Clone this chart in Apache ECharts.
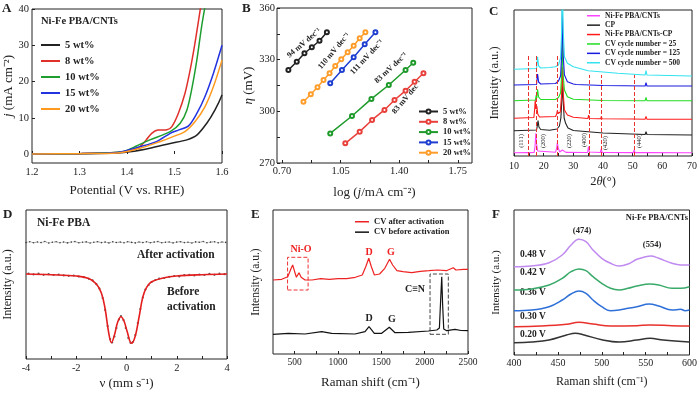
<!DOCTYPE html>
<html><head><meta charset="utf-8">
<script src="https://cdn.jsdelivr.net/npm/echarts@6/dist/echarts.min.js"></script>
<style>html,body{margin:0;padding:0;background:#fff}#c{width:700px;height:396px}</style>
</head><body><div id="c"></div>
<script>
// ================= DATA =================
// Panel A: LSV, potential (V vs RHE) vs j (mA cm-2)
const aNames = ['5 wt%', '8 wt%', '10 wt%', '15 wt%', '20 wt%'];
const aXTicks = [1.2, 1.3, 1.4, 1.5, 1.6];
const aYTicks = [0, 10, 20, 30, 40];
const a5  = [[1.2,0],[1.3,0.1],[1.38,0.3],[1.406,0.6],[1.448,1.6],[1.491,2.9],[1.526,3.9],[1.547,5.2],[1.568,8.5],[1.585,12.1],[1.6,16.3]];
const a8  = [[1.2,0],[1.3,0.1],[1.38,0.4],[1.41,1.0],[1.427,2.0],[1.44,3.8],[1.452,5.7],[1.465,6.6],[1.484,6.7],[1.494,7.5],[1.508,11.2],[1.522,16.7],[1.533,23.2],[1.543,30.5],[1.554,39.7],[1.557,42]];
const a10 = [[1.2,0],[1.3,0.1],[1.38,0.5],[1.40,1.0],[1.42,2.2],[1.448,3.9],[1.491,6.2],[1.512,8.5],[1.526,12.1],[1.536,17.7],[1.547,25.9],[1.557,35.1],[1.564,40.5]];
const a15 = [[1.2,0],[1.3,0.1],[1.38,0.4],[1.427,2.0],[1.462,3.4],[1.491,5.7],[1.508,6.6],[1.529,7.7],[1.547,11.2],[1.564,15.8],[1.582,22.3],[1.6,30]];
const a20 = [[1.2,0],[1.3,0.1],[1.38,0.3],[1.427,1.6],[1.469,3.4],[1.497,4.8],[1.522,6.2],[1.543,8.9],[1.564,13.0],[1.582,18.6],[1.6,25.9]];

// Panel B: Tafel, log(j) vs overpotential (mV)
const bXLabels = [0.70, 1.05, 1.40, 1.75];
const bXTicks = [0.70, 0.875, 1.05, 1.225, 1.40, 1.575, 1.75];
const bYLabels = [270, 300, 330, 360];
const bYTicks = [270, 285, 300, 315, 330, 345, 360];
const b5  = [[0.738,324.0],[0.788,328.8],[0.834,333.7],[0.878,337.2],[0.924,341.0],[0.968,345.9]];
const b8  = [[1.078,281.4],[1.164,288.2],[1.238,295.0],[1.312,300.8],[1.372,306.6],[1.438,312.0],[1.492,317.2],[1.545,322.1]];
const b10 = [[0.988,287.2],[1.118,297.3],[1.234,307.2],[1.338,315.3],[1.438,324.0],[1.484,328.2]];
const b15 = [[0.988,316.3],[1.058,324.0],[1.128,331.4],[1.194,338.9],[1.258,345.9]];
const b20 = [[0.828,305.6],[0.872,309.9],[0.912,314.0],[0.948,318.2],[0.984,322.1],[1.018,326.3],[1.054,330.2],[1.092,334.3],[1.128,338.1],[1.164,342.4],[1.198,345.9]];
const bSlopes = ['94 mV dec⁻¹', '110 mV dec⁻¹', '111 mV dec⁻¹', '83 mV dec⁻¹', '83 mV dec⁻¹'];

// Panel C: XRD (2theta, offset intensity a.u.)
const cNames = ['Ni-Fe PBA/CNTs', 'CP', 'Ni-Fe PBA/CNTs-CP', 'CV cycle number = 25', 'CV cycle number = 125', 'CV cycle number = 500'];
const cXLabels = [10, 20, 30, 40, 50, 60, 70];
const cXTicks = [10, 15, 20, 25, 30, 35, 40, 45, 50, 55, 60, 65, 70];
const cPBA = [[10,3.3],[14.4,3.4],[14.8,4.5],[15.2,3.4],[16.8,3.6],[17.1,10],[17.35,22.7],[17.6,12],[18.0,5],[18.6,3.8],[24.0,3.8],[24.4,8],[24.6,13.3],[24.9,8],[25.4,4],[26.0,4.5],[26.3,6],[26.6,4.5],[27.5,3.6],[34.8,3.5],[35.1,9.3],[35.4,4],[39.1,3.5],[39.4,7],[39.7,3.6],[50.2,3.4],[50.5,6],[50.8,3.4],[54,3.4],[54.4,5],[54.8,3.4],[70,3.3]];
const cCP = [[10,25.3],[17.6,26],[17.9,31],[18.1,35.3],[18.4,29],[19,26.5],[22,25.8],[24.5,27],[25.3,30],[25.8,38],[26.1,55],[26.35,75],[26.6,55],[26.9,38],[27.4,32.7],[28.2,28],[30,25.5],[40,23],[54.2,21.5],[54.5,24.3],[54.8,21.5],[70,21]];
const cCPact = [[10,37.7],[16.7,38.5],[17.0,48],[17.15,56],[17.4,47],[17.7,50],[18.0,42],[18.6,39],[24.0,39.5],[24.4,42],[24.6,45.3],[24.9,42.5],[25.6,44],[26.0,60],[26.3,89],[26.6,62],[27.0,46],[28.0,41],[30,38.7],[34.9,37.5],[35.15,41],[35.4,37.5],[39.2,37.2],[39.45,39.5],[39.7,37.2],[50,37],[54.2,36.8],[54.5,39.7],[54.8,36.8],[70,36.7]];
const cCV25 = [[10,55.3],[17.2,56],[17.5,61],[17.7,58],[17.95,66.7],[18.3,59],[19,56.5],[24,56.5],[25,58.5],[25.7,63],[26.0,78],[26.3,116],[26.6,80],[27,66],[28,59.3],[30,56.7],[40,55.5],[54.2,55.3],[54.5,58.7],[54.8,55.3],[70,55.3]];
const cCV125 = [[10,71],[17.6,71.5],[17.95,82],[18.3,74],[19,72],[24,72.5],[25,75],[25.7,80],[26.0,98],[26.3,146],[26.6,100],[27,81],[28,74.3],[30,72],[30.5,73.5],[31,71.5],[40,70.5],[54.2,70],[54.5,73.3],[54.8,70],[70,70]];
const cCV500 = [[10,86.7],[17.6,87.5],[17.95,99.3],[18.3,90],[19,88],[22,88.5],[24,89.3],[25,91],[25.7,98],[26.0,120],[26.3,175],[26.6,125],[27,99.3],[28,92.7],[30,89.3],[35,85.3],[45,82.7],[54.2,81],[54.5,85.5],[54.8,81],[70,80]];
const cPlanes = ['(111)', '(200)', '(220)', '(400)', '(420)', '(440)'];
const cPlaneAngles = [14.8, 17.4, 24.6, 35.2, 39.5, 50.5];
const cGuideTop = [101, 101, 101, 81, 81, 81];

// Panel D: Mossbauer, velocity (mm s-1)
const dXLabels = [-4, -2, 0, 2, 4];
const dXTicks = [-4, -3, -2, -1, 0, 1, 2, 3, 4];
const dFit = [[-4,85],[-3,84.3],[-2,83],[-1.5,80.5],[-1.2,75],[-1.0,66],[-0.85,50],[-0.72,28],[-0.6,16.3],[-0.48,24],[-0.35,37],[-0.22,42.3],[-0.1,38],[0.02,28],[0.2,15.7],[0.35,23],[0.5,42],[0.65,62],[0.8,71.7],[1.0,77.3],[1.5,81.3],[2,83],[3,84.3],[4,85]];
const dBefore = [[-3.9,85.5],[-3.7,84.6],[-3.5,85.3],[-3.3,84.2],[-3.1,84.8],[-2.9,84],[-2.7,84.5],[-2.5,83.6],[-2.3,83.2],[-2.1,83.5],[-1.9,82.5],[-1.7,81.8],[-1.5,80.2],[-1.35,78.6],[-1.2,74.8],[-1.08,70.5],[-0.95,61],[-0.85,49],[-0.75,33],[-0.65,20],[-0.57,16.5],[-0.48,22.5],[-0.4,31],[-0.3,39.5],[-0.22,43],[-0.12,39],[-0.03,31],[0.07,21],[0.16,16.2],[0.25,17],[0.35,24],[0.45,36],[0.55,50],[0.65,61.5],[0.75,69.5],[0.88,74],[1.0,77],[1.15,79],[1.3,80.5],[1.5,81],[1.7,82.2],[1.9,83],[2.1,82.6],[2.3,83.8],[2.5,84.2],[2.7,83.5],[2.9,84.5],[3.1,84],[3.3,85.2],[3.5,84.2],[3.7,85.5],[3.9,84.8]];
const dAfter = [[-4,116.5],[-3.85,117.3],[-3.7,116.2],[-3.55,117],[-3.4,116.4],[-3.25,117.5],[-3.1,116],[-2.95,116.8],[-2.8,117.2],[-2.65,116.3],[-2.5,117],[-2.35,116.1],[-2.2,116.9],[-2.05,117.4],[-1.9,116.2],[-1.75,116.8],[-1.6,117.1],[-1.45,116],[-1.3,116.7],[-1.15,117.3],[-1,116.4],[-0.85,116.9],[-0.7,116.1],[-0.55,117.2],[-0.4,116.5],[-0.25,116.9],[-0.1,116.2],[0.05,117.3],[0.2,116.6],[0.35,116.1],[0.5,117],[0.65,116.4],[0.8,117.2],[0.95,116.3],[1.1,116.9],[1.25,117.4],[1.4,116.2],[1.55,116.8],[1.7,117],[1.85,116.1],[2,116.9],[2.15,117.3],[2.3,116.4],[2.45,116.8],[2.6,116],[2.75,117.1],[2.9,116.7],[3.05,117.5],[3.2,116.3],[3.35,116.9],[3.5,117.2],[3.65,116.2],[3.8,117],[3.95,116.6]];

// Panel E: Raman (cm-1)
const eNames = ['CV after activation', 'CV before activation'];
const eXLabels = [500, 1000, 1500, 2000, 2500];
const eXTicks = [500, 750, 1000, 1250, 1500, 1750, 2000, 2250, 2500];
const eAfter = [[250,74],[350,74.7],[420,77.3],[460,85.7],[477,89],[500,82.3],[520,76.7],[550,81.3],[575,76.7],[620,74],[700,74],[800,75.3],[900,74.7],[1000,75.3],[1100,75.3],[1200,76.7],[1280,79],[1320,87.3],[1355,95.7],[1385,87.3],[1420,79],[1480,80],[1540,85.7],[1595,94.7],[1630,89],[1680,83.3],[1750,82.3],[1850,81.3],[1950,82.7],[2050,83.3],[2150,84],[2250,83.3],[2330,86.3],[2360,84],[2450,84.7],[2500,84.7]];
const eBefore = [[250,19.7],[427,20.7],[619,20],[812,22.3],[927,20.7],[1196,20],[1312,22.3],[1358,27.3],[1419,20.7],[1504,20.7],[1592,26.7],[1658,21.3],[1812,21.7],[2043,23],[2140,24],[2170,26],[2185,55],[2197,77.3],[2207,50],[2220,25],[2254,23.3],[2350,24.7],[2420,23.5],[2500,23.3]];
const eBoxNiO = [[418, 64], [655, 96.7]];
const eBoxCN = [[2062, 19.7], [2273, 80]];

// Panel F: in-situ Raman (cm-1)
const fNames = ['0.48 V', '0.42 V', '0.36 V', '0.30 V', '0.20 V'];
const fXLabels = [400, 450, 500, 550, 600];
const fXTicks = [400, 425, 450, 475, 500, 525, 550, 575, 600];
const f048 = [[400,88.3],[420,89],[440,92.3],[455,100],[465,110],[474,115.7],[482,113.3],[490,105],[500,96.7],[510,91.7],[520,89],[530,91],[540,95.7],[550,98.3],[556,99],[565,96.7],[580,91.7],[590,90],[600,90]];
const f042 = [[400,65],[420,66],[440,70],[455,76.7],[465,83.3],[474,86],[482,84.3],[490,78.3],[500,71.7],[510,66.7],[520,65],[530,66.7],[540,69],[555,71],[565,70],[580,66.7],[590,66.7],[600,68.3]];
const f036 = [[400,44.3],[420,45],[440,48.3],[455,55],[465,61],[474,64],[482,61.7],[490,55],[500,48.3],[510,44.3],[520,45],[530,46.7],[540,48.3],[554,51],[565,49],[580,45],[590,45.7],[595,44.3],[600,45]];
const f030 = [[400,28.3],[430,29],[460,30.7],[474,32.7],[490,31],[510,29],[540,29.3],[555,30],[580,29.3],[600,29]];
const f020 = [[400,12.3],[420,13],[440,15],[460,20],[470,21.7],[480,20],[500,15.3],[520,13],[540,15],[555,16.7],[570,15],[600,13]];

// ================= STYLE =================
const FONT = "'Liberation Serif','Times New Roman',serif";
const INK = '#222';
const aColors = ['#222222', '#e0302a', '#1e9e2e', '#2233e0', '#ff9a1e'];
const bColors = ['#222222', '#e8403a', '#1e9a2a', '#1f3fd0', '#ff9d2a'];
const cColors = ['#ff44ff', '#222222', '#ff1a1a', '#22dd22', '#1a1ae0', '#33e3ee'];
const eColors = ['#ee2222', '#111111'];
const fColors = ['#c08af0', '#3aaa6a', '#2f70d8', '#e8302c', '#333333'];

const chart = echarts.init(document.getElementById('c'), null, {renderer: 'canvas'});

function axis(gi, min, max, o) {
  return {
    gridIndex: gi, type: 'value', min: min, max: max,
    axisLine: {show: false}, splitLine: {show: false},
    axisTick: {show: !!o.ticks, inside: true, length: 3, customValues: o.ticks, lineStyle: {color: INK}},
    axisLabel: {show: !!o.labels, customValues: o.labels, formatter: o.fmt || (v => String(v)), margin: o.margin || 4,
      fontFamily: FONT, fontSize: o.fs || 10.5, color: INK},
    name: o.name || '', nameLocation: 'middle', nameGap: o.gap || 10,
    nameTextStyle: {fontFamily: FONT, fontSize: o.nfs || 13, color: INK,
      rich: {i: {fontFamily: FONT, fontSize: o.nfs || 13, fontStyle: 'italic', color: INK}}}
  };
}
function grid(l, t, w, h) {
  return {left: l, top: t, width: w, height: h, show: true, borderColor: INK, borderWidth: 1, backgroundColor: 'transparent'};
}
function lineS(name, data, color, xi, extra) {
  return Object.assign({name: name, type: 'line', xAxisIndex: xi, yAxisIndex: xi, data: data, symbol: 'none',
    lineStyle: {width: 1.5, color: color}, itemStyle: {color: color}, animation: false}, extra || {});
}
function txt(x, y, s, o) {
  o = o || {};
  const font = (o.bold === false ? '' : 'bold ') + (o.italic ? 'italic ' : '') + (o.fs || 11) + 'px ' + FONT;
  return {type: 'text', x: x, y: y, rotation: o.rot || 0, silent: true,
    style: {text: s, font: font, fill: o.color || INK,
      align: o.align || 'left', textAlign: o.align || 'left',
      verticalAlign: 'middle', textVerticalAlign: 'middle'}};
}
const deg = Math.PI / 180;

const series = [];
// A
[a5, a8, a10, a15, a20].forEach((d, i) => series.push(lineS(aNames[i], d, aColors[i], 0, {smooth: 0.3})));
// B
[b5, b8, b10, b15, b20].forEach((d, i) => series.push(lineS(aNames[i] + ' ', d, bColors[i], 1,
  {symbol: 'emptyCircle', symbolSize: 4, showSymbol: true, itemStyle: {color: bColors[i], borderWidth: 1}})));
// C
[cPBA, cCP, cCPact, cCV25, cCV125, cCV500].forEach((d, i) => {
  const s = lineS(cNames[i], d, cColors[i], 2, {lineStyle: {width: 1.1, color: cColors[i]}});
  if (i === 0) {
    s.markLine = {silent: true, symbol: 'none', animation: false, label: {show: false},
      lineStyle: {color: '#e8342f', type: 'dashed', width: 1},
      data: cPlaneAngles.map((a, k) => [{coord: [a, 0]}, {coord: [a, cGuideTop[k]]}])};
  }
  series.push(s);
});
// D
series.push(lineS('after', dAfter, '#555', 3, {symbol: 'circle', symbolSize: 1.6, showSymbol: true,
  lineStyle: {width: 0.8, color: '#555', type: 'dotted'}, itemStyle: {color: '#444'}}));
series.push(lineS('fit', dFit, '#e41e1e', 3, {smooth: 0.4, lineStyle: {width: 1.6, color: '#e41e1e'}}));
series.push({name: 'before', type: 'scatter', xAxisIndex: 3, yAxisIndex: 3, data: dBefore, symbolSize: 2.2,
  itemStyle: {color: '#333'}, animation: false});
// E
series.push(lineS(eNames[0], eAfter, eColors[0], 4, {lineStyle: {width: 1.2, color: eColors[0]},
  markArea: {silent: true, animation: false, itemStyle: {color: 'rgba(0,0,0,0)', borderColor: '#ee3333', borderWidth: 1, borderType: 'dashed'},
    data: [[{coord: eBoxNiO[0]}, {coord: eBoxNiO[1]}]]}}));
series.push(lineS(eNames[1], eBefore, eColors[1], 4, {lineStyle: {width: 1.2, color: eColors[1]},
  markArea: {silent: true, animation: false, itemStyle: {color: 'rgba(0,0,0,0)', borderColor: '#444', borderWidth: 1, borderType: 'dashed'},
    data: [[{coord: eBoxCN[0]}, {coord: eBoxCN[1]}]]}}));
// F
[f048, f042, f036, f030, f020].forEach((d, i) => series.push(lineS(fNames[i], d, fColors[i], 5, {smooth: 0.4})));

const legText = (fs, lh) => ({fontFamily: FONT, fontWeight: 'bold', fontSize: fs, color: INK, lineHeight: lh});

const option = {
  animation: false,
  backgroundColor: '#fff',
  grid: [grid(32, 9, 190, 154), grid(277, 8, 195, 155), grid(514, 10, 178, 146),
         grid(26, 210, 201, 149), grid(273, 210, 195, 144), grid(514, 210, 178, 145)],
  xAxis: [
    axis(0, 1.2, 1.6, {ticks: aXTicks, labels: aXTicks, fmt: v => v.toFixed(1), name: 'Potential (V vs. RHE)', gap: 21, margin: 4}),
    axis(1, 0.67, 1.835, {ticks: bXTicks, labels: bXLabels, fmt: v => v.toFixed(2), name: 'log ({i|j}/mA cm⁻²)', gap: 23, margin: 3}),
    axis(2, 10, 70, {ticks: cXTicks, labels: cXLabels, name: '2{i|θ}(°)', gap: 19, margin: 5, fs: 10, nfs: 12.5}),
    axis(3, -4, 4, {ticks: dXTicks, labels: dXLabels, name: 'ν (mm s⁻¹)', gap: 18, margin: 4}),
    axis(4, 250, 2500, {ticks: eXTicks, labels: eXLabels, name: 'Raman shift (cm⁻¹)', gap: 22, margin: 3, fs: 9.5}),
    axis(5, 400, 600, {ticks: fXTicks, labels: fXLabels, name: 'Raman shift (cm⁻¹)', gap: 21, margin: 3, fs: 10, nfs: 12})
  ],
  yAxis: [
    axis(0, -2.48, 40, {ticks: aYTicks, labels: aYTicks, name: '{i|j} (mA cm⁻²)', gap: 15, margin: 3}),
    axis(1, 270, 360, {ticks: bYTicks, labels: bYLabels, name: '{i|η} (mV)', gap: 14, margin: 2}),
    axis(2, 0, 146, {name: 'Intensity (a.u.)', gap: 13, nfs: 12.5}),
    axis(3, 0, 149, {name: 'Intensity (a.u.)', gap: 12, nfs: 12}),
    axis(4, 0, 144, {name: 'Intensity (a.u.)', gap: 11, nfs: 11.5}),
    axis(5, 0, 145, {name: 'Intensity (a.u.)', gap: 12, nfs: 11})
  ],
  legend: [
    {left: 41, top: 39, padding: 0, orient: 'vertical', selectedMode: false, icon: 'rect', itemWidth: 19, itemHeight: 2, itemGap: 4,
      data: aNames, textStyle: legText(10.5, 12)},
    {left: 418, top: 107, padding: 0, orient: 'vertical', selectedMode: false, itemWidth: 19, itemHeight: 5, itemGap: 1.3,
      data: aNames.map(n => n + ' '), formatter: n => n.trim(), textStyle: legText(8.5, 9)},
    {left: 587, top: 11.5, padding: 0, orient: 'vertical', selectedMode: false, icon: 'rect', itemWidth: 13, itemHeight: 1.5, itemGap: 0.9,
      data: cNames, textStyle: legText(7.5, 8.5)},
    {left: 355, top: 217, padding: 0, orient: 'vertical', selectedMode: false, icon: 'rect', itemWidth: 14, itemHeight: 1.5, itemGap: 0.9,
      data: eNames, textStyle: legText(8.5, 9.5)}
  ],
  series: series,
  graphic: {elements: [
    // panel letters
    txt(2, 9, 'A', {fs: 13}), txt(242, 9, 'B', {fs: 13}), txt(489, 12, 'C', {fs: 13}),
    txt(3, 215, 'D', {fs: 13}), txt(251, 215, 'E', {fs: 13}), txt(492, 215, 'F', {fs: 13}),
    // A
    txt(41, 21, 'Ni-Fe PBA/CNTs', {fs: 10.5}),
    // B slopes
    txt(304, 43, bSlopes[0], {fs: 8, align: 'center', rot: 40 * deg}),
    txt(334, 51, bSlopes[1], {fs: 8, align: 'center', rot: 50 * deg}),
    txt(367, 57, bSlopes[2], {fs: 8, align: 'center', rot: 47 * deg}),
    txt(391, 68, bSlopes[3], {fs: 8, align: 'center', rot: 43 * deg}),
    txt(407, 97, bSlopes[4], {fs: 8, align: 'center', rot: 50 * deg}),
    // C planes
    txt(521, 141, cPlanes[0], {fs: 6.5, bold: false, align: 'center', rot: 90 * deg}),
    txt(543, 141, cPlanes[1], {fs: 6.5, bold: false, align: 'center', rot: 90 * deg}),
    txt(569.5, 141, cPlanes[2], {fs: 6.5, bold: false, align: 'center', rot: 90 * deg}),
    txt(584, 140, cPlanes[3], {fs: 6.5, bold: false, align: 'center', rot: 90 * deg}),
    txt(605.5, 143, cPlanes[4], {fs: 6.5, bold: false, align: 'center', rot: 90 * deg}),
    txt(639, 141, cPlanes[5], {fs: 6.5, bold: false, align: 'center', rot: 90 * deg}),
    // D
    txt(37, 223, 'Ni-Fe PBA', {fs: 11.5}),
    txt(137, 255, 'After activation', {fs: 11.5}),
    txt(167, 292, 'Before', {fs: 11.5}),
    txt(167, 307, 'activation', {fs: 11.5}),
    // E
    txt(301, 249, 'Ni-O', {fs: 10, align: 'center', color: '#ee2222'}),
    txt(369, 252, 'D', {fs: 10, align: 'center', color: '#ee2222'}),
    txt(391, 252, 'G', {fs: 10, align: 'center', color: '#ee2222'}),
    txt(369, 318, 'D', {fs: 10, align: 'center'}),
    txt(392, 319, 'G', {fs: 10, align: 'center'}),
    txt(415, 289, 'C≡N', {fs: 10, align: 'center'}),
    // F
    txt(520, 255, fNames[0], {fs: 9.5}),
    txt(520, 273, fNames[1], {fs: 9.5}),
    txt(520, 293, fNames[2], {fs: 9.5}),
    txt(520, 316.5, fNames[3], {fs: 9.5}),
    txt(520, 335, fNames[4], {fs: 9.5}),
    txt(582, 231, '(474)', {fs: 8.5, align: 'center'}),
    txt(652, 245, '(554)', {fs: 8.5, align: 'center'}),
    txt(688, 218, 'Ni-Fe PBA/CNTs', {fs: 8.5, align: 'right'})
  ]}
};
chart.setOption(option);
</script></body></html>
